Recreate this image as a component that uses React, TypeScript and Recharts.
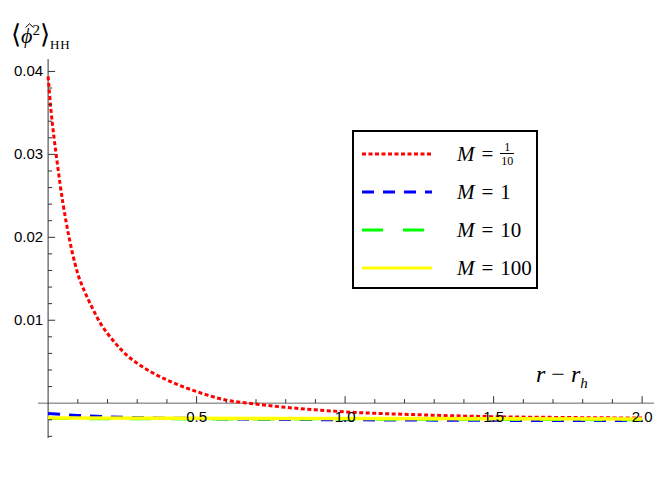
import React from "react";
import { LineChart, Line, XAxis, YAxis, ReferenceLine, ReferenceDot, Legend } from "recharts";

// curve samples
const redX = [0, 0.01, 0.02, 0.03, 0.04, 0.05, 0.06, 0.07, 0.08, 0.09, 0.1, 0.125, 0.15, 0.175, 0.2, 0.225, 0.25, 0.3, 0.35, 0.4, 0.5, 0.6, 0.7, 0.8, 0.9, 1.0, 1.25, 1.5, 1.75, 2.0];
const redY = [0.0394, 0.0352, 0.032, 0.0292, 0.0265, 0.0241, 0.022, 0.0201, 0.0184, 0.0169, 0.0156, 0.0133, 0.0114, 0.0097, 0.0084, 0.0073, 0.0063, 0.0048, 0.0037, 0.0028, 0.0014, 0.00036, -0.0001, -0.0005, -0.0008, -0.00105, -0.0014, -0.00163, -0.00173, -0.0018];

const blueX = [0, 0.1, 0.25, 0.5, 0.75, 1.0, 1.5, 2.0];
const blueY = [-0.00124, -0.00148, -0.0017, -0.00185, -0.00195, -0.002, -0.00207, -0.0021];

const greenX = [0, 0.5, 1.0, 1.5, 2.0];
const greenY = [-0.00185, -0.0019, -0.00192, -0.00195, -0.002];

const yellowX = [0, 1.0, 2.0];
const yellowY = [-0.0018, -0.00185, -0.0019];

const seriesNames = ["m01", "m1", "m10", "m100"];
const seriesLabels = ["1/10", "1", "10", "100"];
const seriesColors = ["#ff0000", "#0000ff", "#00ff00", "#ffff00"];
const seriesDash = ["4 2.5", "12 9", "21 20", undefined];

const xMajor = [0.5, 1.0, 1.5, 2.0];
const xMajorLabels = ["0.5", "1.0", "1.5", "2.0"];
const xMinor = [0.1, 0.2, 0.3, 0.4, 0.6, 0.7, 0.8, 0.9, 1.1, 1.2, 1.3, 1.4, 1.6, 1.7, 1.8, 1.9];
const yMajor = [0.01, 0.02, 0.03, 0.04];
const yMajorLabels = ["0.01", "0.02", "0.03", "0.04"];
const yMinor = [-0.004, -0.002, 0.002, 0.004, 0.006, 0.008, 0.012, 0.014, 0.016, 0.018, 0.022, 0.024, 0.026, 0.028, 0.032, 0.034, 0.036, 0.038];

const toPoints = (xs: number[], ys: number[]) => xs.map((x, i) => ({ x, y: ys[i] }));
const seriesData = [
  toPoints(redX, redY),
  toPoints(blueX, blueY),
  toPoints(greenX, greenY),
  toPoints(yellowX, yellowY),
];

const AXIS = "#333";
const SANS = "'Liberation Sans', Arial, sans-serif";
const SERIF = "'Liberation Serif', 'Times New Roman', serif";

const xTick = (len: number) => (p: any) => (
  <line x1={p.cx} y1={p.cy} x2={p.cx} y2={p.cy - len} stroke={AXIS} strokeWidth={1} />
);
const yTick = (len: number) => (p: any) => (
  <line x1={p.cx} y1={p.cy} x2={p.cx + len} y2={p.cy} stroke={AXIS} strokeWidth={1} />
);
const xLabel = (text: string) => (p: any) => (
  <text x={p.cx} y={p.cy + 19} textAnchor="middle" fontSize={15} fontFamily={SANS} fill="#000">
    {text}
  </text>
);
const yLabel = (text: string) => (p: any) => (
  <text x={p.cx - 5} y={p.cy + 5} textAnchor="end" fontSize={15} fontFamily={SANS} fill="#000">
    {text}
  </text>
);

function MathLabel({ value }: { value: string }) {
  const parts = value.split("/");
  return (
    <span style={{ fontFamily: SERIF, fontSize: 21, display: "inline-flex", alignItems: "center" }}>
      <i>M</i>
      <span style={{ margin: "0 7px" }}>=</span>
      {parts.length === 2 ? (
        <span style={{ display: "inline-flex", flexDirection: "column", alignItems: "center", fontSize: 12, lineHeight: "12px" }}>
          <span>{parts[0]}</span>
          <span style={{ borderTop: "1px solid #000", padding: "1px 1px 0" }}>{parts[1]}</span>
        </span>
      ) : (
        <span>{value}</span>
      )}
    </span>
  );
}

const renderLegend = () => (
  <div
    style={{
      boxSizing: "border-box",
      width: 186,
      height: 159,
      border: "2px solid #000",
      background: "#fff",
      paddingTop: 3,
    }}
  >
    {seriesNames.map((name, i) => (
      <div key={name} style={{ height: 38, display: "flex", alignItems: "center" }}>
        <svg width={97} height={10} style={{ marginLeft: 6 }}>
          <line
            x1={2}
            y1={5}
            x2={72}
            y2={5}
            stroke={seriesColors[i]}
            strokeWidth={3}
            strokeDasharray={seriesDash[i]}
          />
        </svg>
        <MathLabel value={seriesLabels[i]} />
      </div>
    ))}
  </div>
);

export default function App() {
  return (
    <div style={{ position: "absolute", left: 0, top: 0, width: 664, height: 498, background: "#fff" }}>
      <LineChart width={664} height={498} margin={{ top: 59, right: 10, bottom: 60, left: 38 }}>
        <XAxis type="number" dataKey="x" domain={[-0.034, 2.04]} allowDataOverflow hide />
        <YAxis type="number" dataKey="y" domain={[-0.0042, 0.0415]} allowDataOverflow hide />
        <ReferenceLine y={0} stroke="#666" strokeWidth={1} />
        <ReferenceLine x={0} stroke={AXIS} strokeWidth={1} />
        {xMinor.map((v) => (
          <ReferenceDot key={`xm${v}`} x={v} y={0} r={1} ifOverflow="visible" shape={xTick(4)} />
        ))}
        {xMajor.map((v) => (
          <ReferenceDot key={`xM${v}`} x={v} y={0} r={1} ifOverflow="visible" shape={xTick(7)} />
        ))}
        {yMinor.map((v) => (
          <ReferenceDot key={`ym${v}`} x={0} y={v} r={1} ifOverflow="visible" shape={yTick(4)} />
        ))}
        {yMajor.map((v) => (
          <ReferenceDot key={`yM${v}`} x={0} y={v} r={1} ifOverflow="visible" shape={yTick(7)} />
        ))}
        {seriesNames.map((name, i) => (
          <Line
            key={name}
            name={name}
            data={seriesData[i]}
            dataKey="y"
            type="monotone"
            stroke={seriesColors[i]}
            strokeWidth={i === 3 ? 3.5 : 3}
            strokeDasharray={seriesDash[i]}
            dot={false}
            activeDot={false}
            isAnimationActive={false}
          />
        ))}
        {xMajor.map((v, i) => (
          <ReferenceDot key={`xl${v}`} x={v} y={0} r={1} ifOverflow="visible" shape={xLabel(xMajorLabels[i])} />
        ))}
        {yMajor.map((v, i) => (
          <ReferenceDot key={`yl${v}`} x={0} y={v} r={1} ifOverflow="visible" shape={yLabel(yMajorLabels[i])} />
        ))}
        <Legend
          layout="vertical"
          align="center"
          verticalAlign="middle"
          content={renderLegend}
          wrapperStyle={{ left: 352, top: 130, width: 186, height: 159 }}
        />
      </LineChart>
      <div style={{ position: "absolute", left: 11, top: 14, fontFamily: SERIF, fontSize: 22, whiteSpace: "nowrap", lineHeight: "32px" }}>
        <span style={{ fontSize: 26, fontWeight: 300 }}>⟨</span>
        <span style={{ position: "relative", display: "inline-block" }}>
          <i>ϕ</i>
          <svg width={9} height={5} style={{ position: "absolute", left: 4, top: 3 }}>
            <polyline points="0.5,4.5 4.5,0.8 8.5,4.5" fill="none" stroke="#000" strokeWidth={1} />
          </svg>
        </span>
        <sup style={{ fontSize: 15 }}>2</sup>
        <span style={{ fontSize: 26, fontWeight: 300 }}>⟩</span>
        <sub style={{ fontSize: 13, letterSpacing: 1 }}>HH</sub>
      </div>
      <div style={{ position: "absolute", left: 536, top: 361, fontFamily: SERIF, fontSize: 24, whiteSpace: "nowrap" }}>
        <i>r</i>
        <span style={{ margin: "0 6px" }}>−</span>
        <i>r</i>
        <sub style={{ fontSize: 15 }}>
          <i>h</i>
        </sub>
      </div>
    </div>
  );
}
